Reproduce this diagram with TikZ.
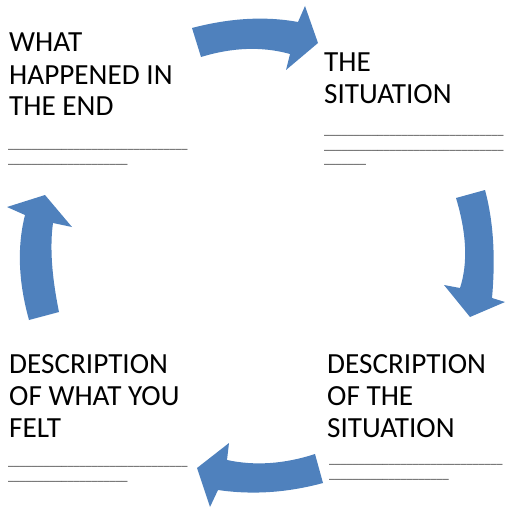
\documentclass[tikz,border=0pt]{standalone}
\usepackage{fontspec}
\setmainfont{Carlito}
\definecolor{arrowblue}{HTML}{4F81BD}
\newcommand\uu{\_\_\_\_\_}
\begin{document}
\begin{tikzpicture}[x=1pt,y=-1pt,
  lbl/.style={anchor=base west,inner sep=0pt,align=left,font=\fontsize{29.2}{32}\selectfont},
  blank/.style={anchor=base west,inner sep=0pt,align=left,font=\fontsize{12}{14.5}\selectfont,text=black!85},
  cyc/.style={fill=arrowblue,draw=none}]
\useasboundingbox (0,0) rectangle (506,508);
% arrows
\fill[cyc] (192,28) .. controls (230,18) and (265.3,16) .. (298,22)
  -- (305,6) -- (318,43) -- (286,70) -- (290,54)
  .. controls (262.3,46.3) and (232.7,47.3) .. (201,57) -- cycle;
\fill[cyc] (485,190) .. controls (493.3,220.7) and (495.7,256.7) .. (492,298)
  -- (505,302) -- (470,317) -- (444,285) -- (460,288)
  .. controls (468,263.3) and (466.7,233.3) .. (456,198) -- cycle;
\fill[cyc] (323,483) .. controls (287.3,492.7) and (252.3,495) .. (218,490)
  -- (210,507) -- (197,468) -- (229,443) -- (227,460)
  .. controls (255,466) and (284.3,464) .. (315,454) -- cycle;
\fill[cyc] (29,320) .. controls (18.3,281.7) and (17,246.7) .. (25,215)
  -- (7,207) -- (45,195) -- (72,227) -- (53,223)
  .. controls (49.7,246.7) and (51.7,276.3) .. (59,312) -- cycle;
% texts (anchored at the baseline of the last line)
\node[lbl] (tl) at (9,116) {WHAT\\HAPPENED IN\\THE END};
\node[blank] (tlb) at (8,163) {\uu\uu\uu\uu\uu\uu\\\uu\uu\uu\uu};
\node[lbl] (tr) at (324,103) {THE\\SITUATION};
\node[blank] (trb) at (324,163.5) {\uu\uu\uu\uu\uu\uu\\\uu\uu\uu\uu\uu\uu\\\uu\_\_};
\node[lbl] (br) at (327,437) {DESCRIPTION\\OF THE\\SITUATION};
\node[blank] (brb) at (329,478) {\uu\uu\uu\uu\uu\_\_\_\_\\\uu\uu\uu\uu};
\node[lbl] (bl) at (9,437) {DESCRIPTION\\OF WHAT YOU\\FELT};
\node[blank] (blb) at (8,480) {\uu\uu\uu\uu\uu\uu\\\uu\uu\uu\uu};
\end{tikzpicture}
\end{document}
